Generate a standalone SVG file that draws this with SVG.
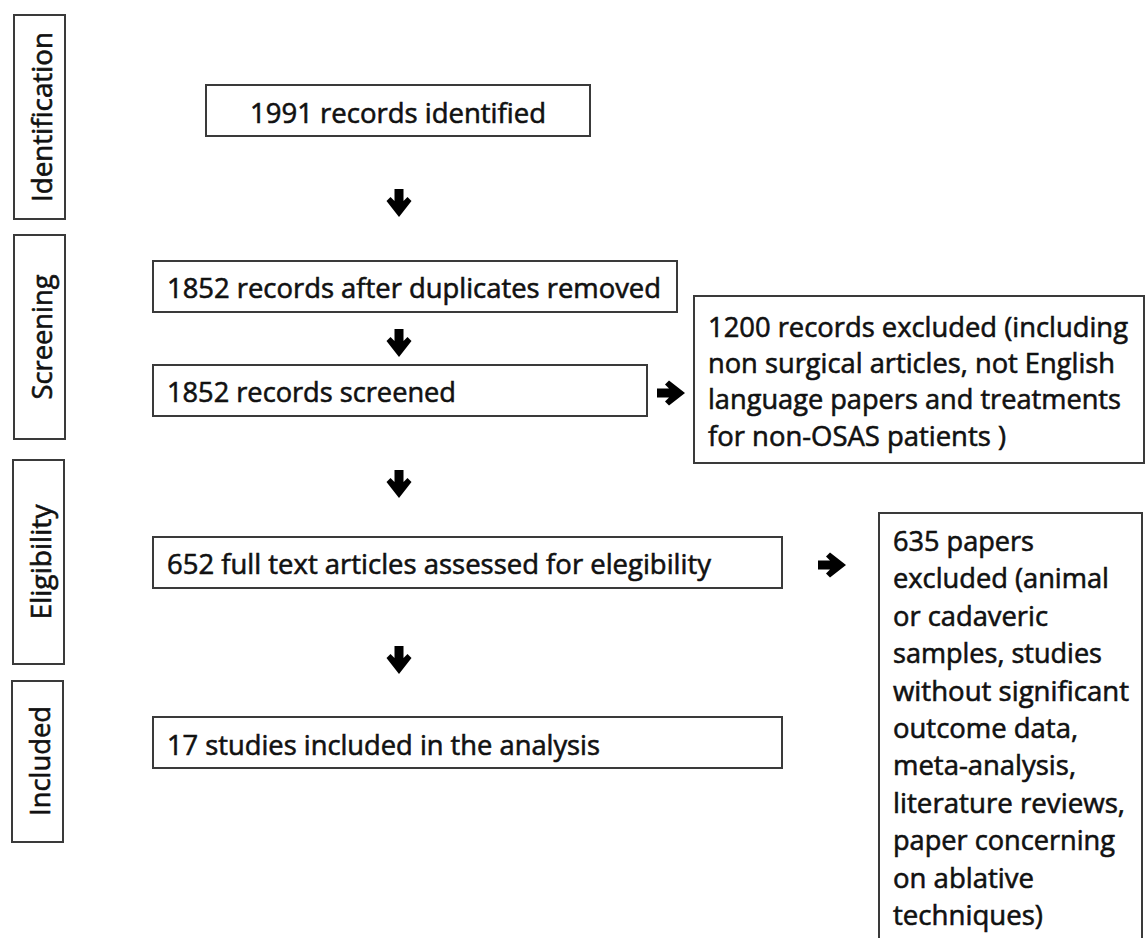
<svg xmlns="http://www.w3.org/2000/svg" width="1146" height="938" viewBox="0 0 1146 938">
<style>
.box{fill:#fff;stroke:#3a3a3a;stroke-width:2}
.t{font-family:"Open Sans","Liberation Sans",sans-serif;font-size:28px;fill:#111;stroke:#111;stroke-width:0.6}
.arr{fill:#000}
</style>
<defs>
<path id="ad" d="M-4.5,0 L4.5,0 L4.5,12 L8.5,8 L12.5,12 L0,28 L-12.5,12 L-8.5,8 L-4.5,12 Z"/>
<path id="ar" d="M0,-4.5 L0,4.5 L12,4.5 L8,8.5 L12,12.5 L28,0 L12,-12.5 L8,-8.5 L12,-4.5 Z"/>
</defs>
<rect width="1146" height="938" fill="#fff"/>
<g id="stage-identification">
<rect class="box" x="14" y="15" width="51" height="204"/>
<text class="t" text-anchor="middle" transform="translate(52,117) rotate(-90)" textLength="170" lengthAdjust="spacingAndGlyphs">Identification</text>
</g>
<g id="stage-screening">
<rect class="box" x="14" y="235" width="51" height="204"/>
<text class="t" text-anchor="middle" transform="translate(52,337) rotate(-90)" textLength="125" lengthAdjust="spacingAndGlyphs">Screening</text>
</g>
<g id="stage-eligibility">
<rect class="box" x="13" y="460" width="51" height="204"/>
<text class="t" text-anchor="middle" transform="translate(51,562) rotate(-90)" textLength="115" lengthAdjust="spacingAndGlyphs">Eligibility</text>
</g>
<g id="stage-included">
<rect class="box" x="12" y="681" width="51" height="161"/>
<text class="t" text-anchor="middle" transform="translate(50,761) rotate(-90)" textLength="110" lengthAdjust="spacingAndGlyphs">Included</text>
</g>
<g id="n1">
<rect class="box" x="206" y="85" width="384" height="51"/>
<text class="t" x="250" y="123" textLength="296" lengthAdjust="spacingAndGlyphs">1991 records identified</text>
</g>
<g id="n2">
<rect class="box" x="153" y="261" width="524" height="51"/>
<text class="t" x="167" y="298" textLength="494" lengthAdjust="spacingAndGlyphs">1852 records after duplicates removed</text>
</g>
<g id="n3">
<rect class="box" x="153" y="365" width="494" height="51"/>
<text class="t" x="167" y="402" textLength="289" lengthAdjust="spacingAndGlyphs">1852 records screened</text>
</g>
<g id="n4">
<rect class="box" x="694" y="296" width="450" height="167"/>
<text class="t" x="708" y="337" textLength="420" lengthAdjust="spacingAndGlyphs">1200 records excluded (including</text>
<text class="t" x="708" y="373" textLength="407" lengthAdjust="spacingAndGlyphs">non surgical articles, not English</text>
<text class="t" x="708" y="409" textLength="413" lengthAdjust="spacingAndGlyphs">language papers and treatments</text>
<text class="t" x="708" y="446" textLength="298" lengthAdjust="spacingAndGlyphs">for non-OSAS patients )</text>
</g>
<g id="n5">
<rect class="box" x="153" y="537" width="629" height="51"/>
<text class="t" x="167" y="574" textLength="544" lengthAdjust="spacingAndGlyphs">652 full text articles assessed for elegibility</text>
</g>
<g id="n6">
<rect class="box" x="879" y="513" width="263" height="440"/>
<text class="t" x="893" y="551" textLength="141" lengthAdjust="spacingAndGlyphs">635 papers</text>
<text class="t" x="893" y="588" textLength="216" lengthAdjust="spacingAndGlyphs">excluded (animal</text>
<text class="t" x="893" y="626" textLength="155" lengthAdjust="spacingAndGlyphs">or cadaveric</text>
<text class="t" x="893" y="663" textLength="209" lengthAdjust="spacingAndGlyphs">samples, studies</text>
<text class="t" x="893" y="701" textLength="236" lengthAdjust="spacingAndGlyphs">without significant</text>
<text class="t" x="893" y="738" textLength="185" lengthAdjust="spacingAndGlyphs">outcome data,</text>
<text class="t" x="893" y="775" textLength="183" lengthAdjust="spacingAndGlyphs">meta-analysis,</text>
<text class="t" x="893" y="813" textLength="232" lengthAdjust="spacingAndGlyphs">literature reviews,</text>
<text class="t" x="893" y="850" textLength="222" lengthAdjust="spacingAndGlyphs">paper concerning</text>
<text class="t" x="893" y="888" textLength="141" lengthAdjust="spacingAndGlyphs">on ablative</text>
<text class="t" x="893" y="925" textLength="150" lengthAdjust="spacingAndGlyphs">techniques)</text>
</g>
<g id="n7">
<rect class="box" x="153" y="717" width="629" height="51"/>
<text class="t" x="167" y="755" textLength="433" lengthAdjust="spacingAndGlyphs">17 studies included in the analysis</text>
</g>
<g id="connectors" class="arr">
<use href="#ad" x="399" y="189"/>
<use href="#ad" x="399" y="329"/>
<use href="#ad" x="399" y="470"/>
<use href="#ad" x="399" y="646"/>
<use href="#ar" x="657" y="393"/>
<use href="#ar" x="818" y="565"/>
</g>
</svg>
